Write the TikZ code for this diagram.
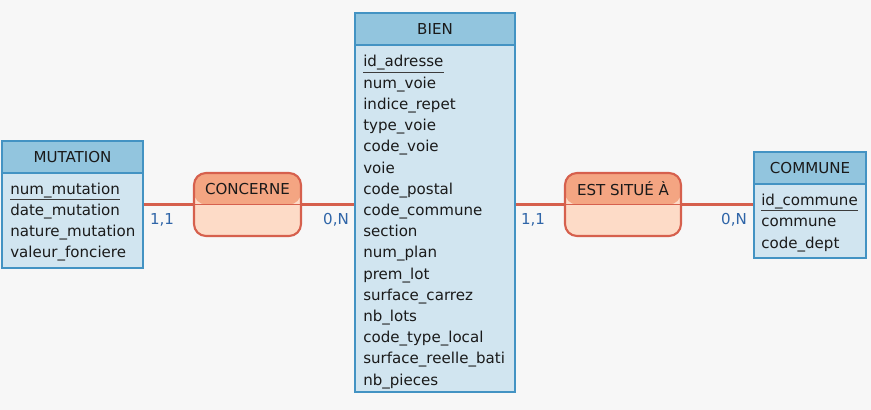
\documentclass[tikz,border=0pt]{standalone}
\usepackage{fontspec}
\setmainfont{DejaVu Sans}
\usepackage{tikz}
\usetikzlibrary{positioning}
\definecolor{EntHead}{HTML}{92C5DE}
\definecolor{EntBody}{HTML}{D1E5F0}
\definecolor{EntLine}{HTML}{4393C3}
\definecolor{AssHead}{HTML}{F4A582}
\definecolor{AssBody}{HTML}{FDDBC7}
\definecolor{AssLine}{HTML}{D6604D}
\definecolor{Card}{HTML}{2F65A8}
\definecolor{Back}{HTML}{F7F7F7}
\definecolor{Ink}{HTML}{1A1A1A}

\tikzset{
  every node/.style={font=\fontsize{11.3}{13}\selectfont, text=Ink},
  entity/.style={draw=EntLine, fill=EntBody, line width=1.9pt, inner sep=0pt},
  enthead/.style={draw=EntLine, fill=EntHead, line width=1.9pt, inner sep=0pt,
    anchor=north, minimum height=24pt},
  attr/.style={anchor=base west, inner sep=0pt},
  keyline/.style={draw=Ink!85, line width=0.9pt},
  assoc/.style={draw=AssLine, fill=AssBody, line width=1.6pt, rounded corners=9pt,
    minimum width=80.25pt, minimum height=47.25pt, inner sep=0pt,
    path picture={\fill[AssHead] (path picture bounding box.north west)
      rectangle (path picture bounding box.east);
      \draw[AssLine, line width=1.2pt] (path picture bounding box.west)
      -- (path picture bounding box.east);}},
  link/.style={draw=AssLine, line width=1.6pt},
  card/.style={text=Card, inner sep=0pt}
}

\begin{document}
\begin{tikzpicture}[x=0.75pt, y=-0.75pt]
  \useasboundingbox[fill=Back] (0,0) rectangle (871,410);

  % entities
  \node[entity, minimum width=105.75pt, minimum height=95.25pt] (mutation) at (72.5,204.5) {};
  \node[enthead, minimum width=105.75pt] (mutationH) at (mutation.north) {MUTATION};
  \node[entity, minimum width=120pt, minimum height=284.25pt] (bien) at (435,202.5) {};
  \node[enthead, minimum width=120pt] (bienH) at (bien.north) {BIEN};
  \node[entity, minimum width=84pt, minimum height=79.5pt] (commune) at (810,205) {};
  \node[enthead, minimum width=84pt] (communeH) at (commune.north) {COMMUNE};

  % attributes
  \node[attr] (m0) at (10,194) {num\_mutation};
  \draw[keyline] ([yshift=-1pt]m0.south west) -- ([yshift=-1pt]m0.south east);
  \foreach \t [count=\i] in {date\_mutation, nature\_mutation, valeur\_fonciere}
    \node[attr] (m\i) at (10,194+21.3*\i) {\t};

  \node[attr] (b0) at (363,67) {id\_adresse};
  \draw[keyline] ([yshift=-1pt]b0.south west) -- ([yshift=-1pt]b0.south east);
  \foreach \t [count=\i] in {num\_voie, indice\_repet, type\_voie, code\_voie, voie,
      code\_postal, code\_commune, section, num\_plan, prem\_lot, surface\_carrez,
      nb\_lots, code\_type\_local, surface\_reelle\_bati, nb\_pieces}
    \node[attr] (b\i) at (363,67+21.2*\i) {\t};

  \node[attr] (c0) at (761,205) {id\_commune};
  \draw[keyline] ([yshift=-1pt]c0.south west) -- ([yshift=-1pt]c0.south east);
  \foreach \t [count=\i] in {commune, code\_dept}
    \node[attr] (c\i) at (761,205+21.5*\i) {\t};

  % associations
  \node[assoc] (concerne) at (247.5,204.5) {};
  \node (concerneL) at (247.5,189) {CONCERNE};
  \node[assoc, minimum width=87pt] (situe) at (623,204.5) {};
  \node (situeL) at (623,189) {EST SITUÉ À};

  % links
  \draw[link] (mutation.east) -- (concerne.west);
  \draw[link] (concerne.east) -- (concerne.east -| bien.west);
  \draw[link] (situe.west -| bien.east) -- (situe.west);
  \draw[link] (situe.east) -- (situe.east -| commune.west);

  % cardinalities
  \node[card] (k1) at (162,220) {1,1};
  \node[card] (k2) at (336,220) {0,N};
  \node[card] (k3) at (533,220) {1,1};
  \node[card] (k4) at (734,220) {0,N};
\end{tikzpicture}
\end{document}
